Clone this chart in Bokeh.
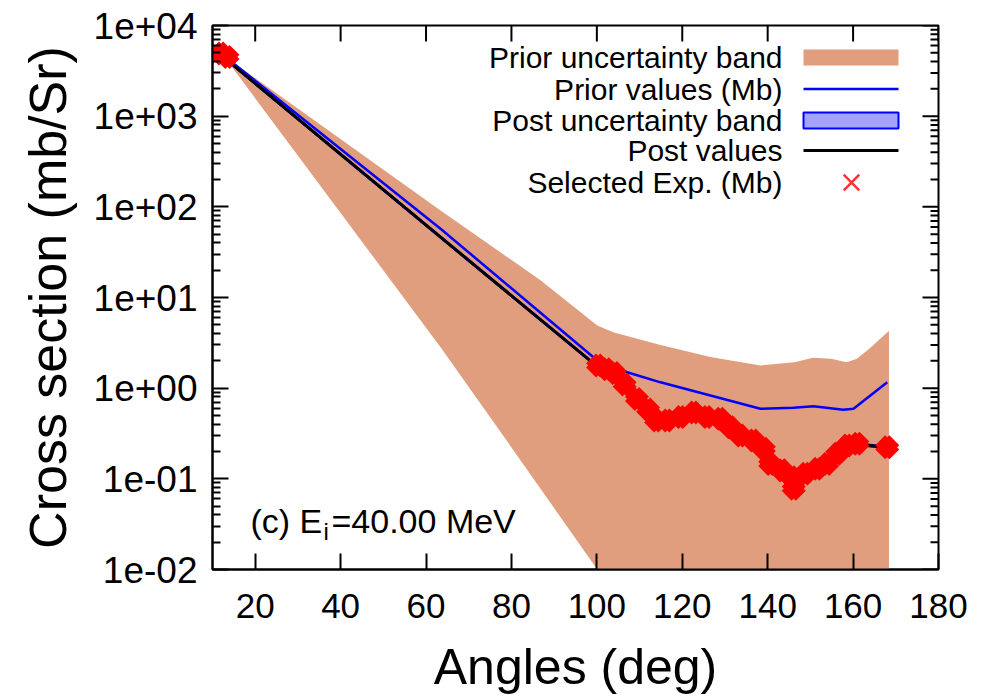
from bokeh.plotting import figure
from bokeh.models import Range1d, FixedTicker, CustomJSTickFormatter, Label
from bokeh.embed import file_html
from bokeh.resources import INLINE

# ---------------- data ----------------
prior_upper_angle = [12.5, 63.4, 86.8, 100.1, 104.0, 114.9, 126.6, 138.3, 146.3, 150.6, 154.8, 158.5, 160.9, 164.2, 168.4]
prior_upper = [4.7e3, 91.0, 15.5, 4.9, 4.1, 3.0, 2.2, 1.78, 1.93, 2.16, 2.11, 1.93, 2.11, 2.83, 4.3]

prior_lower_angle = [12.5, 63.4, 80.5, 100.1, 110.0, 168.4]
prior_lower = [4.7e3, 2.83, 0.206, 0.010, 0.002, 0.001]

prior_angle = [12.5, 63.4, 86.8, 100.1, 107.1, 114.9, 126.6, 138.3, 146.0, 150.7, 157.7, 160.1, 168.0]
prior_value = [4.7e3, 57.3, 6.8, 2.02, 1.50, 1.16, 0.83, 0.593, 0.608, 0.63, 0.578, 0.593, 1.16]

post_angle = [12.5, 63.4, 98.5, 101, 104, 107, 110, 113, 117, 122, 126, 129, 133, 137, 141, 145, 149, 153, 157, 161, 165, 168]
post_value = [4.5e3, 46.3, 2.0, 1.75, 1.4, 1.05, 0.72, 0.50, 0.45, 0.52, 0.48, 0.45, 0.31, 0.26, 0.15, 0.10, 0.11, 0.14, 0.20, 0.24, 0.23, 0.22]
post_lo = [4.35e3, 44.6, 1.93, 1.69, 1.35, 1.01, 0.695, 0.483, 0.434, 0.502, 0.463, 0.434, 0.299, 0.251, 0.145, 0.0965, 0.106, 0.135, 0.193, 0.232, 0.222, 0.212]
post_hi = [4.65e3, 48.0, 2.07, 1.81, 1.45, 1.09, 0.745, 0.518, 0.466, 0.538, 0.497, 0.466, 0.321, 0.269, 0.155, 0.1035, 0.114, 0.145, 0.207, 0.248, 0.238, 0.228]

exp_angle = [12.0, 13.5, 100.3, 102.3, 104.2, 106.5, 109.4, 112.0, 113.9, 116.5, 119.6, 122.7, 125.8, 128.9,
             131.3, 133.6, 136.7, 139.1, 140.6, 143.4, 145.7, 146.1, 148.8, 151.6, 153.9, 156.3, 158.6, 161.0, 168.0]
exp_value = [4.9e3, 4.5e3, 1.78, 1.62, 1.47, 1.10, 0.76, 0.58, 0.44, 0.44, 0.48, 0.54, 0.48, 0.46,
             0.37, 0.30, 0.265, 0.214, 0.146, 0.124, 0.104, 0.078, 0.114, 0.129, 0.146, 0.189, 0.233, 0.244, 0.223]

x_ticks = [20, 40, 60, 80, 100, 120, 140, 160, 180]
y_decades = [-2, -1, 0, 1, 2, 3, 4]

legend_labels = ["Prior uncertainty band", "Prior values (Mb)", "Post uncertainty band",
                 "Post values", "Selected Exp. (Mb)"]

# ---------------- styling ----------------
FONT = "Liberation Sans"
BAND = "#E09E7E"
POSTBAND = "#A4A4F8"

X0, X1 = 10, 180
LY0, LY1 = -2, 4
FX0, FW = 212, 726   # frame left edge / width on page (layout helpers for annotations)
FY0, FH = 25, 544    # frame top edge / height on page
FY1 = FY0 + FH


def px_x(px):
    return X0 + (px - FX0) / FW * (X1 - X0)


def px_y(py):
    return 10 ** (LY0 + (FY1 - py) / FH * (LY1 - LY0))


p = figure(frame_width=FW, frame_height=FH, y_axis_type="log",
           x_range=Range1d(X0, X1), y_range=Range1d(10 ** LY0, 10 ** LY1),
           output_backend="svg", toolbar_location=None,
           min_border_left=FX0, min_border_right=54, min_border_top=FY0, min_border_bottom=112)
p.grid.visible = False
p.outline_line_color = "black"
p.outline_line_width = 2
p.background_fill_color = "white"

# ticks
major_y = [10.0 ** d for d in y_decades]
minor_y = [m * 10.0 ** d for d in y_decades[:-1] for m in range(2, 10)]
yt = FixedTicker(ticks=major_y, minor_ticks=minor_y)
xt = FixedTicker(ticks=x_ticks, minor_ticks=[])
fmt = CustomJSTickFormatter(code="""
const e = Math.round(Math.log10(tick));
return "1e" + (e < 0 ? "-" : "+") + String(Math.abs(e)).padStart(2, "0");
""")

for ax in (p.xaxis[0], p.yaxis[0]):
    ax.axis_line_width = 2
    ax.axis_line_color = "black"
    ax.major_tick_line_width = 2
    ax.minor_tick_line_width = 2
    ax.major_tick_in = 16
    ax.major_tick_out = 0
    ax.minor_tick_in = 8
    ax.minor_tick_out = 0
    ax.major_label_text_font = FONT
    ax.major_label_text_color = "black"
    ax.axis_label_text_font = FONT
    ax.axis_label_text_font_style = "normal"
    ax.axis_label_text_color = "black"

p.xaxis.ticker = xt
p.yaxis.ticker = yt
p.yaxis.formatter = fmt
p.xaxis.axis_label = "Angles (deg)"
p.yaxis.axis_label = "Cross section (mb/Sr)"
p.xaxis.major_label_text_font_size = "35px"
p.yaxis.major_label_text_font_size = "37px"
p.xaxis.axis_label_text_font_size = "50px"
p.yaxis.axis_label_text_font_size = "52px"
p.xaxis.major_label_standoff = 24
p.yaxis.major_label_standoff = 15
p.xaxis.axis_label_standoff = 18
p.yaxis.axis_label_standoff = 14

# mirror ticks on top and right edges (gnuplot "mirror")
top_y = [10.0 ** LY1] * len(x_ticks)
p.segment(x0=x_ticks, y0=top_y, x1=x_ticks, y1=[px_y(FY0 + 16)] * len(x_ticks),
          line_color="black", line_width=2)
p.segment(x0=[X1] * len(major_y), y0=major_y, x1=[px_x(FX0 + FW - 16)] * len(major_y), y1=major_y,
          line_color="black", line_width=2)
p.segment(x0=[X1] * len(minor_y), y0=minor_y, x1=[px_x(FX0 + FW - 8)] * len(minor_y), y1=minor_y,
          line_color="black", line_width=2)

# ---------------- data marks ----------------
band_x = prior_upper_angle + prior_lower_angle[::-1]
band_y = prior_upper + prior_lower[::-1]
p.patch(band_x, band_y, fill_color=BAND, line_color=None)

p.line(prior_angle, prior_value, line_color="#0000FF", line_width=2.5)

pb_x = post_angle + post_angle[::-1]
pb_y = post_hi + post_lo[::-1]
p.patch(pb_x, pb_y, fill_color=POSTBAND, line_color="#0000FF", line_width=1)

p.line(post_angle, post_value, line_color="black", line_width=3)

p.scatter(exp_angle, exp_value, marker="x", size=20, line_width=14, line_color="#FF0000")

# ---------------- key (gnuplot style: text left, sample right) ----------------
rows = [57, 88.5, 119.5, 150, 182]
for lab, r in zip(legend_labels, rows):
    p.add_layout(Label(x=px_x(782), y=px_y(r), text=lab, text_align="right", text_baseline="middle",
                       text_font=FONT, text_font_size="30px", text_color="black"))

p.quad(left=[px_x(803)], right=[px_x(898)], top=[px_y(49)], bottom=[px_y(65)],
       fill_color=BAND, line_color=None)
p.line([px_x(803), px_x(898)], [px_y(rows[1]), px_y(rows[1])], line_color="#0000FF", line_width=2.5)
p.quad(left=[px_x(803)], right=[px_x(898)], top=[px_y(112)], bottom=[px_y(128)],
       fill_color=POSTBAND, line_color="#0000FF", line_width=2)
p.line([px_x(803), px_x(898)], [px_y(rows[3]), px_y(rows[3])], line_color="black", line_width=3)
p.scatter([px_x(851)], [px_y(rows[4])], marker="x", size=22, line_width=2.5, line_color="#FF3333")

# ---------------- panel annotation ----------------
p.add_layout(Label(x=px_x(250), y=px_y(520), text="(c) E", text_baseline="alphabetic",
                   text_font=FONT, text_font_size="34px", text_color="black"))
p.add_layout(Label(x=px_x(323), y=px_y(531), text="i", text_baseline="alphabetic",
                   text_font=FONT, text_font_size="24px", text_color="black"))
p.add_layout(Label(x=px_x(331), y=px_y(520), text="=40.00 MeV", text_baseline="alphabetic",
                   text_font=FONT, text_font_size="34px", text_color="black"))

open("out.html", "w").write(file_html(p, INLINE))
